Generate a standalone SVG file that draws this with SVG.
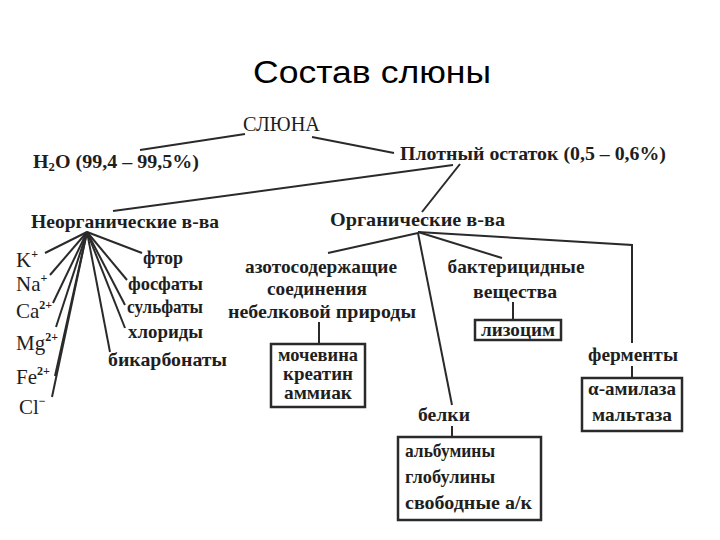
<svg xmlns="http://www.w3.org/2000/svg" width="720" height="540" viewBox="0 0 720 540">
<style>
.t{font-family:"Liberation Serif","DejaVu Serif",serif;font-weight:bold;font-size:19px;fill:#1e1e1e}
.i{font-family:"Liberation Serif","DejaVu Serif",serif;font-size:21px;fill:#1e1e1e}
.r{font-family:"Liberation Serif","DejaVu Serif",serif;font-size:20px;fill:#1e1e1e}
.c{text-anchor:middle}
.sup{font-size:12px;font-weight:bold}
.ln{stroke:#2a2a2a;stroke-width:2;fill:none}
.bx{stroke:#2a2a2a;stroke-width:2.5;fill:#fff}
</style>
<rect width="720" height="540" fill="#fff"/>
<text x="372" y="83" text-anchor="middle" font-family="Liberation Sans, Arial, sans-serif" font-size="31" fill="#000" textLength="238" lengthAdjust="spacingAndGlyphs">Состав слюны</text>

<g id="connectors">
<line class="ln" x1="245" y1="134" x2="140" y2="150"/>
<line class="ln" x1="312" y1="137" x2="394" y2="153"/>
<line class="ln" x1="453" y1="165" x2="113" y2="211"/>
<line class="ln" x1="460" y1="164" x2="422" y2="212"/>
<g>
<line class="ln" x1="87" y1="232" x2="45" y2="253"/>
<line class="ln" x1="87" y1="232" x2="50" y2="275"/>
<line class="ln" x1="87" y1="232" x2="53" y2="303"/>
<line class="ln" x1="87" y1="232" x2="56" y2="327"/>
<line class="ln" x1="87" y1="232" x2="55" y2="376"/>
<line class="ln" x1="87" y1="232" x2="52" y2="397"/>
<line class="ln" x1="87" y1="232" x2="142" y2="253"/>
<line class="ln" x1="87" y1="232" x2="127" y2="280"/>
<line class="ln" x1="87" y1="232" x2="125" y2="305"/>
<line class="ln" x1="87" y1="232" x2="125" y2="328"/>
<line class="ln" x1="87" y1="232" x2="110" y2="352"/>
</g>
<line class="ln" x1="418" y1="233" x2="328" y2="253"/>
<line class="ln" x1="418" y1="233" x2="452" y2="405"/>
<line class="ln" x1="418" y1="232" x2="502" y2="258"/>
<polyline class="ln" points="418,232 632,245 632,343"/>
<line class="ln" x1="319" y1="322" x2="319" y2="344"/>
<line class="ln" x1="513" y1="302" x2="513" y2="320"/>
<line class="ln" x1="632" y1="366" x2="632" y2="378"/>
<line class="ln" x1="452" y1="426" x2="452" y2="437"/>
</g>

<g id="sluna"><text class="r" x="243" y="131" textLength="77" lengthAdjust="spacingAndGlyphs">СЛЮНА</text></g>
<g id="h2o"><text class="t" x="33" y="168" textLength="166" lengthAdjust="spacingAndGlyphs">H<tspan font-size="12" dy="3">2</tspan><tspan dy="-3">O (99,4 – 99,5%)</tspan></text></g>
<g id="dry"><text class="t" x="400" y="160" textLength="266" lengthAdjust="spacingAndGlyphs">Плотный остаток (0,5 – 0,6%)</text></g>
<g id="inorg"><text class="t" x="31" y="228" textLength="188" lengthAdjust="spacingAndGlyphs">Неорганические в-ва</text></g>
<g id="org"><text class="t" x="330" y="226" textLength="175" lengthAdjust="spacingAndGlyphs">Органические в-ва</text></g>

<g id="ions">
<text class="i" x="16" y="267">K<tspan class="sup" dy="-9">+</tspan></text>
<text class="i" x="16" y="291">Na<tspan class="sup" dy="-9">+</tspan></text>
<text class="i" x="16" y="318">Ca<tspan class="sup" dy="-9">2+</tspan></text>
<text class="i" x="16" y="350">Mg<tspan class="sup" dy="-9">2+</tspan></text>
<text class="i" x="16" y="384">Fe<tspan class="sup" dy="-9">2+</tspan></text>
<text class="i" x="19" y="414">Cl<tspan class="sup" dy="-9">−</tspan></text>
</g>
<g id="anions">
<text class="t" x="143" y="264" textLength="40" lengthAdjust="spacingAndGlyphs">фтор</text>
<text class="t" x="128" y="290" textLength="75" lengthAdjust="spacingAndGlyphs">фосфаты</text>
<text class="t" x="127" y="313" textLength="76" lengthAdjust="spacingAndGlyphs">сульфаты</text>
<text class="t" x="128" y="338" textLength="75" lengthAdjust="spacingAndGlyphs">хлориды</text>
<text class="t" x="108" y="366" textLength="119" lengthAdjust="spacingAndGlyphs">бикарбонаты</text>
</g>

<g id="azot">
<text class="t c" x="321" y="273" textLength="152" lengthAdjust="spacingAndGlyphs">азотосодержащие</text>
<text class="t c" x="317" y="295" textLength="100" lengthAdjust="spacingAndGlyphs">соединения</text>
<text class="t c" x="322" y="318" textLength="188" lengthAdjust="spacingAndGlyphs">небелковой природы</text>
</g>
<g id="azot-box">
<rect class="bx" x="271" y="344" width="94" height="63"/>
<text class="t c" x="318" y="361" textLength="80" lengthAdjust="spacingAndGlyphs">мочевина</text>
<text class="t c" x="318" y="380" textLength="70" lengthAdjust="spacingAndGlyphs">креатин</text>
<text class="t c" x="318" y="399" textLength="68" lengthAdjust="spacingAndGlyphs">аммиак</text>
</g>
<g id="bakt">
<text class="t c" x="516" y="273" textLength="137" lengthAdjust="spacingAndGlyphs">бактерицидные</text>
<text class="t c" x="515" y="298" textLength="84" lengthAdjust="spacingAndGlyphs">вещества</text>
</g>
<g id="lizocim">
<rect class="bx" x="475" y="320" width="86" height="20"/>
<text class="t c" x="518" y="336" textLength="74" lengthAdjust="spacingAndGlyphs">лизоцим</text>
</g>
<g id="ferm"><text class="t c" x="633" y="361" textLength="90" lengthAdjust="spacingAndGlyphs">ферменты</text></g>
<g id="ferm-box">
<rect class="bx" x="582" y="378" width="100" height="53"/>
<text class="t c" x="632" y="395" textLength="88" lengthAdjust="spacingAndGlyphs">α-амилаза</text>
<text class="t c" x="632" y="421" textLength="80" lengthAdjust="spacingAndGlyphs">мальтаза</text>
</g>
<g id="belki"><text class="t c" x="444" y="421" textLength="52" lengthAdjust="spacingAndGlyphs">белки</text></g>
<g id="belki-box">
<rect class="bx" x="398" y="437" width="143" height="83"/>
<text class="t" x="405" y="457" textLength="90" lengthAdjust="spacingAndGlyphs">альбумины</text>
<text class="t" x="405" y="483" textLength="90" lengthAdjust="spacingAndGlyphs">глобулины</text>
<text class="t" x="405" y="509" textLength="127" lengthAdjust="spacingAndGlyphs">свободные а/к</text>
</g>
</svg>
